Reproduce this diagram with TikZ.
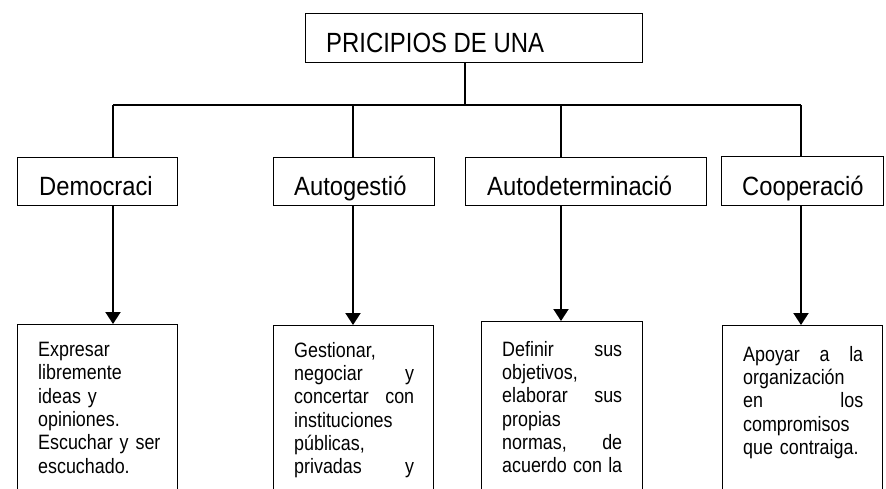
\documentclass[tikz,border=0pt]{standalone}
\usepackage{fontspec}
\setmainfont{Liberation Sans}[FakeStretch=0.9]
\newfontfamily\titlefnt{Liberation Sans}[FakeStretch=0.86]
\newfontfamily\bodyfnt{Liberation Sans}[FakeStretch=0.86]
\usetikzlibrary{arrows.meta}
\begin{document}
\begin{tikzpicture}[x=1pt,y=-1pt,
  box/.style={draw,line width=1.2pt,inner sep=0pt,anchor=north west},
  big/.style={font=\fontsize{26.4}{30}\selectfont,inner sep=0pt,anchor=base west},
  ttl/.style={font=\titlefnt\fontsize{27.8}{30}\selectfont,inner sep=0pt,anchor=base west},
  small/.style={font=\bodyfnt\fontsize{20.8}{23.3}\selectfont,inner sep=0pt,anchor=north west,text width=120pt,align=left},
  conn/.style={line width=1.4pt},
  arr/.style={line width=2pt,-{Triangle[length=12pt,width=15pt]}}]
\useasboundingbox (0,0) rectangle (886,488);
\clip (0,0) rectangle (886,488);
% top
\node[box,minimum width=337pt,minimum height=49pt] (top) at (305,13) {};
\node[ttl] (tt) at (326,52) {PRICIPIOS DE UNA};
% level 2 boxes
\node[box,minimum width=160pt,minimum height=48pt] (d1) at (17,157) {};
\node[box,minimum width=161pt,minimum height=48pt] (d2) at (273,157) {};
\node[box,minimum width=241pt,minimum height=48pt] (d3) at (465,157) {};
\node[box,minimum width=162pt,minimum height=49pt] (d4) at (721,156) {};
\node[big] (t1) at (39,195) {Democraci};
\node[big] (t2) at (294,195) {Autogestió};
\node[big] (t3) at (487,195) {Autodeterminació};
\node[big] (t4) at (742,195) {Cooperació};
% bottom boxes
\node[box,minimum width=160pt,minimum height=200pt] (e1) at (17,324) {};
\node[box,minimum width=160pt,minimum height=200pt] (e2) at (273,325) {};
\node[box,minimum width=161pt,minimum height=200pt] (e3) at (481,321) {};
\node[box,minimum width=160pt,minimum height=200pt] (e4) at (722,325) {};
\node[small,text width=135pt] (s1) at (38,342) {Expresar\\libremente\\ideas y\\opiniones.\\Escuchar y ser\\escuchado.};
\node[small] (s2) at (294,342) {Gestionar,\\negociar\hfill y\\concertar\hfill con\\instituciones\\públicas,\\privadas\hfill y};
\node[small] (s3) at (502,341) {Definir\hfill sus\\objetivos,\\elaborar\hfill sus\\propias\\normas,\hfill de\\acuerdo\hfill con\hfill la};
\node[small] (s4) at (743,346) {Apoyar\hfill a\hfill la\\organización\\en\hfill los\\compromisos\\que contraiga.};
% connectors
\coordinate (c0) at (465,105);
\coordinate (h1) at (113,105);
\coordinate (h2) at (353,105);
\coordinate (h3) at (561,105);
\coordinate (h4) at (801,105);
\draw[conn] (c0 |- top.south) -- (c0);
\draw[conn] (h1) -- (h4);
\draw[conn] (h1) -- (h1 |- d1.north);
\draw[conn] (h2) -- (h2 |- d2.north);
\draw[conn] (h3) -- (h3 |- d3.north);
\draw[conn] (h4) -- (h4 |- d4.north);
\draw[arr] (h1 |- d1.south) -- (h1 |- e1.north);
\draw[arr] (h2 |- d2.south) -- (h2 |- e2.north);
\draw[arr] (h3 |- d3.south) -- (h3 |- e3.north);
\draw[arr] (h4 |- d4.south) -- (h4 |- e4.north);
\end{tikzpicture}
\end{document}
